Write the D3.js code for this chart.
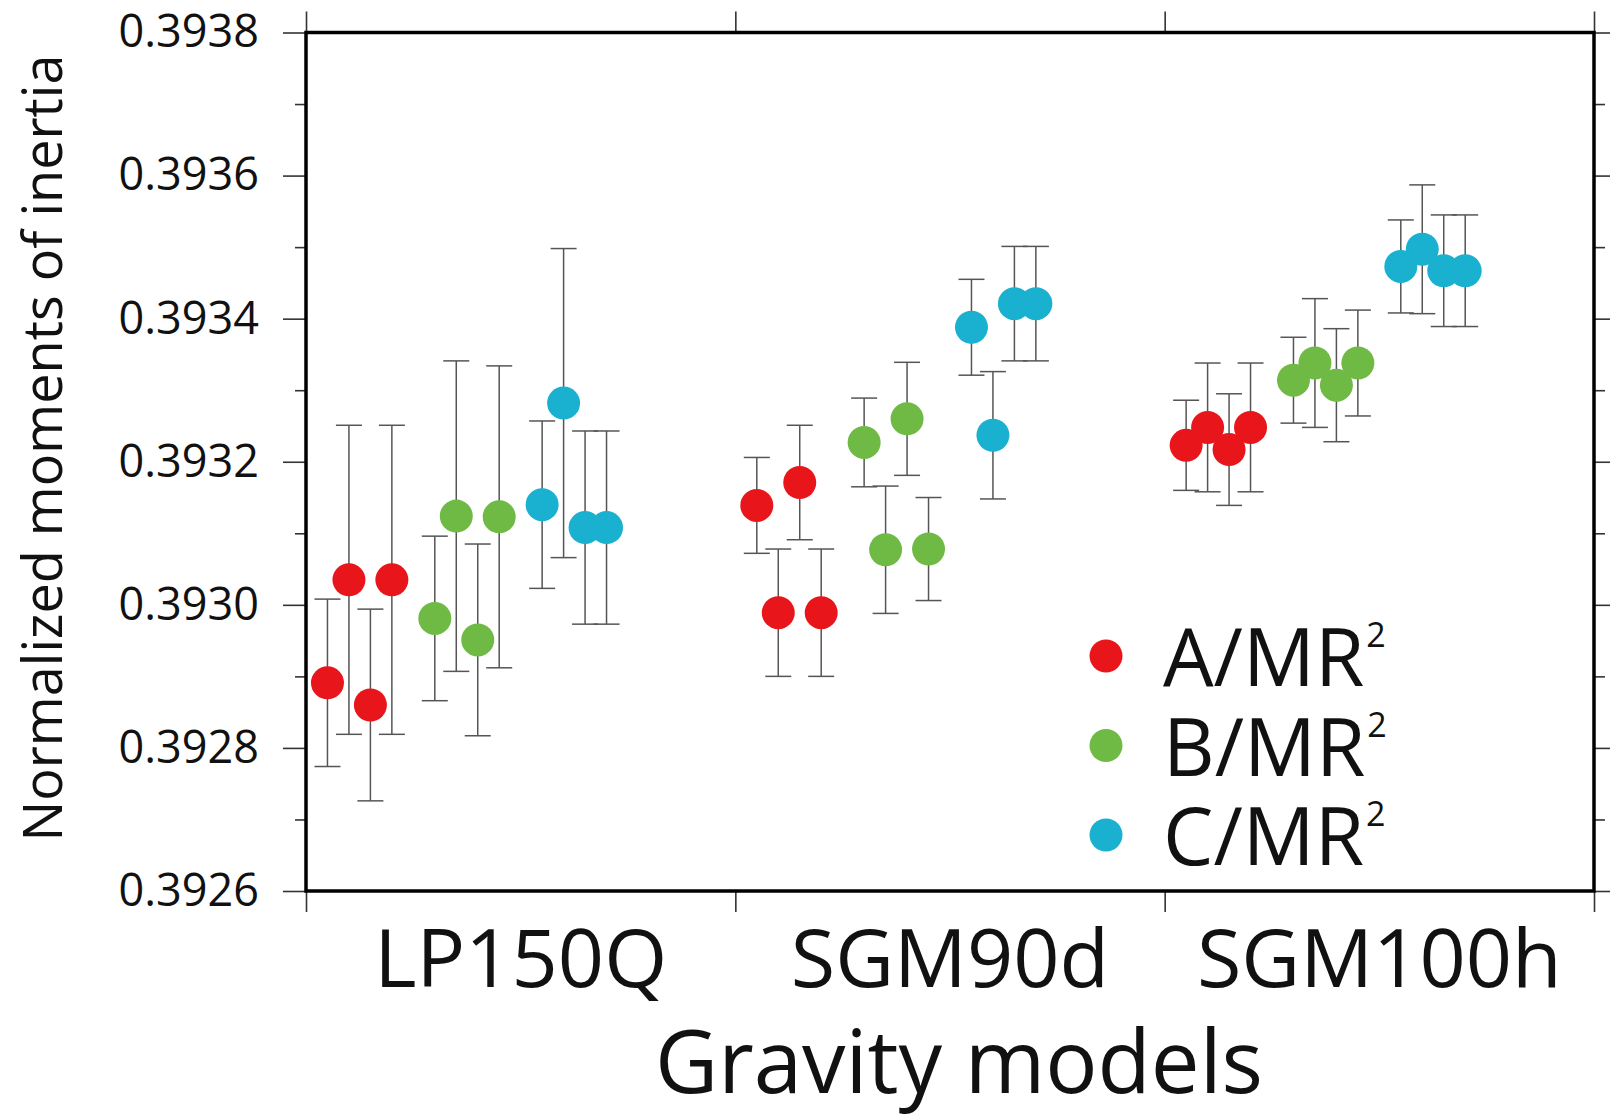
<!DOCTYPE html>
<html>
<head>
<meta charset="utf-8">
<script src="https://cdn.jsdelivr.net/npm/d3@7"></script>
<style>
  html, body { margin: 0; padding: 0; background: #fff; }
  svg { display: block; font-family: 'Open Sans', sans-serif; }
</style>
</head>
<body>
<svg id="chart" width="1610" height="1117"></svg>
<script>
/* globals d3 */

// Values: four estimates per moment and gravity model
const models = ['LP150Q', 'SGM90d', 'SGM100h'];
const seriesLabels = ['A/MR', 'B/MR', 'C/MR'];
const seriesColors = ['#e8151b', '#6fba45', '#1ab0cf'];

const aValues = [
  [0.392891, 0.393035, 0.392860, 0.393035],
  [0.393139, 0.392989, 0.393171, 0.392989],
  [0.393223, 0.393248, 0.393217, 0.393248]
];
const aErrors = [
  [0.000117, 0.000216, 0.000134, 0.000216],
  [0.000067, 0.000089, 0.000080, 0.000089],
  [0.000063, 0.000090, 0.000078, 0.000090]
];
const bValues = [
  [0.392981, 0.393124, 0.392951, 0.393123],
  [0.393227, 0.393077, 0.393260, 0.393078],
  [0.393314, 0.393338, 0.393307, 0.393338]
];
const bErrors = [
  [0.000115, 0.000217, 0.000134, 0.000211],
  [0.000062, 0.000089, 0.000079, 0.000072],
  [0.000060, 0.000090, 0.000079, 0.000074]
];
const cValues = [
  [0.393140, 0.393282, 0.393108, 0.393108],
  [0.393388, 0.393237, 0.393421, 0.393421],
  [0.393473, 0.393497, 0.393467, 0.393467]
];
const cErrors = [
  [0.000117, 0.000216, 0.000135, 0.000135],
  [0.000067, 0.000089, 0.000080, 0.000080],
  [0.000065, 0.000090, 0.000078, 0.000078]
];

const yDomain = [0.3926, 0.3938];
const yMajorTicks = [0.3926, 0.3928, 0.3930, 0.3932, 0.3934, 0.3936, 0.3938];
const yMinorTicks = [0.3927, 0.3929, 0.3931, 0.3933, 0.3935, 0.3937];

const slotsPerModel = 20;
const frameLeft = 306;
const frameRight = 1594;
const frameTop = 32.5;
const frameBottom = 891;

const svg = d3.select('#chart');

const xScale = d3.scaleLinear()
  .domain([0, models.length * slotsPerModel])
  .range([frameLeft, frameRight]);
const yScale = d3.scaleLinear()
  .domain(yDomain)
  .range([frameBottom, frameTop]);

// Flatten into points; each series gets a block of 4 slots inside a model
const allValues = [aValues, bValues, cValues];
const allErrors = [aErrors, bErrors, cErrors];
const points = [];
models.forEach((model, m) => {
  allValues.forEach((vals, s) => {
    vals[m].forEach((v, k) => {
      points.push({
        slot: m * slotsPerModel + s * 5 + k + 1,
        value: v,
        error: allErrors[s][m][k],
        color: seriesColors[s]
      });
    });
  });
});

// Axes: ticks on all four sides
const tickStroke = g => g.selectAll('.tick line')
  .attr('stroke', '#333').attr('stroke-width', 1.6);

svg.append('g')
  .attr('transform', `translate(${frameLeft},0)`)
  .call(d3.axisLeft(yScale).tickValues(yMinorTicks).tickSize(11).tickFormat(''))
  .call(tickStroke)
  .call(g => g.select('.domain').remove());
const yAxis = svg.append('g')
  .attr('transform', `translate(${frameLeft},0)`)
  .call(d3.axisLeft(yScale).tickValues(yMajorTicks).tickSize(23).tickPadding(24)
    .tickFormat(d => d.toFixed(4)))
  .call(tickStroke)
  .call(g => g.select('.domain').remove());
yAxis.selectAll('.tick text')
  .attr('font-size', 45)
  .attr('font-family', 'Open Sans')
  .attr('fill', '#111');

svg.append('g')
  .attr('transform', `translate(${frameRight},0)`)
  .call(d3.axisRight(yScale).tickValues(yMinorTicks).tickSize(11).tickFormat(''))
  .call(tickStroke)
  .call(g => g.select('.domain').remove());
svg.append('g')
  .attr('transform', `translate(${frameRight},0)`)
  .call(d3.axisRight(yScale).tickValues(yMajorTicks).tickSize(17).tickFormat(''))
  .call(tickStroke)
  .call(g => g.select('.domain').remove());

const boundaries = d3.range(models.length + 1).map(i => i * slotsPerModel);
svg.append('g')
  .attr('transform', `translate(0,${frameTop})`)
  .call(d3.axisTop(xScale).tickValues(boundaries).tickSize(21).tickFormat(''))
  .call(tickStroke)
  .call(g => g.select('.domain').remove());
svg.append('g')
  .attr('transform', `translate(0,${frameBottom})`)
  .call(d3.axisBottom(xScale).tickValues(boundaries).tickSize(21).tickFormat(''))
  .call(tickStroke)
  .call(g => g.select('.domain').remove());

// Model names under the frame
svg.append('g').selectAll('text')
  .data(models)
  .join('text')
  .attr('x', (d, i) => xScale(i * slotsPerModel + slotsPerModel / 2))
  .attr('y', 987)
  .attr('text-anchor', 'middle')
  .attr('font-size', 81)
  .attr('fill', '#111')
  .text(d => d);

// Error bars, then dots on top
const bars = svg.append('g').selectAll('g')
  .data(points)
  .join('g')
  .attr('stroke', '#555')
  .attr('stroke-width', 1.5);
bars.append('line')
  .attr('x1', d => xScale(d.slot))
  .attr('x2', d => xScale(d.slot))
  .attr('y1', d => yScale(d.value - d.error))
  .attr('y2', d => yScale(d.value + d.error));
bars.append('line')
  .attr('x1', d => xScale(d.slot) - 13)
  .attr('x2', d => xScale(d.slot) + 13)
  .attr('y1', d => yScale(d.value + d.error))
  .attr('y2', d => yScale(d.value + d.error));
bars.append('line')
  .attr('x1', d => xScale(d.slot) - 13)
  .attr('x2', d => xScale(d.slot) + 13)
  .attr('y1', d => yScale(d.value - d.error))
  .attr('y2', d => yScale(d.value - d.error));

svg.append('g').selectAll('circle')
  .data(points)
  .join('circle')
  .attr('cx', d => xScale(d.slot))
  .attr('cy', d => yScale(d.value))
  .attr('r', 16.5)
  .attr('fill', d => d.color);

// Frame
svg.append('rect')
  .attr('x', frameLeft)
  .attr('y', frameTop)
  .attr('width', frameRight - frameLeft)
  .attr('height', frameBottom - frameTop)
  .attr('fill', 'none')
  .attr('stroke', '#000')
  .attr('stroke-width', 3.5);

// Legend
const legend = svg.append('g').selectAll('g')
  .data(seriesLabels)
  .join('g')
  .attr('transform', (d, i) => `translate(1106,${656 + i * 89.5})`);
legend.append('circle')
  .attr('r', 16.5)
  .attr('fill', (d, i) => seriesColors[i]);
legend.append('text')
  .attr('x', 57)
  .attr('y', 30)
  .attr('font-size', 80)
  .attr('fill', '#111')
  .text(d => d);
// superscript placed just after the label
legend.append('text')
  .attr('x', function () {
    return 59 + this.parentNode.querySelector('text').getComputedTextLength();
  })
  .attr('y', -9)
  .attr('font-size', 34)
  .attr('fill', '#111')
  .text('2');

// Axis titles
svg.append('text')
  .attr('transform', 'translate(62,448) rotate(-90)')
  .attr('text-anchor', 'middle')
  .attr('font-size', 54)
  .attr('fill', '#111')
  .text('Normalized moments of inertia');

svg.append('text')
  .attr('x', 959)
  .attr('y', 1093)
  .attr('text-anchor', 'middle')
  .attr('font-size', 87)
  .attr('fill', '#111')
  .text('Gravity models');
</script>
</body>
</html>
